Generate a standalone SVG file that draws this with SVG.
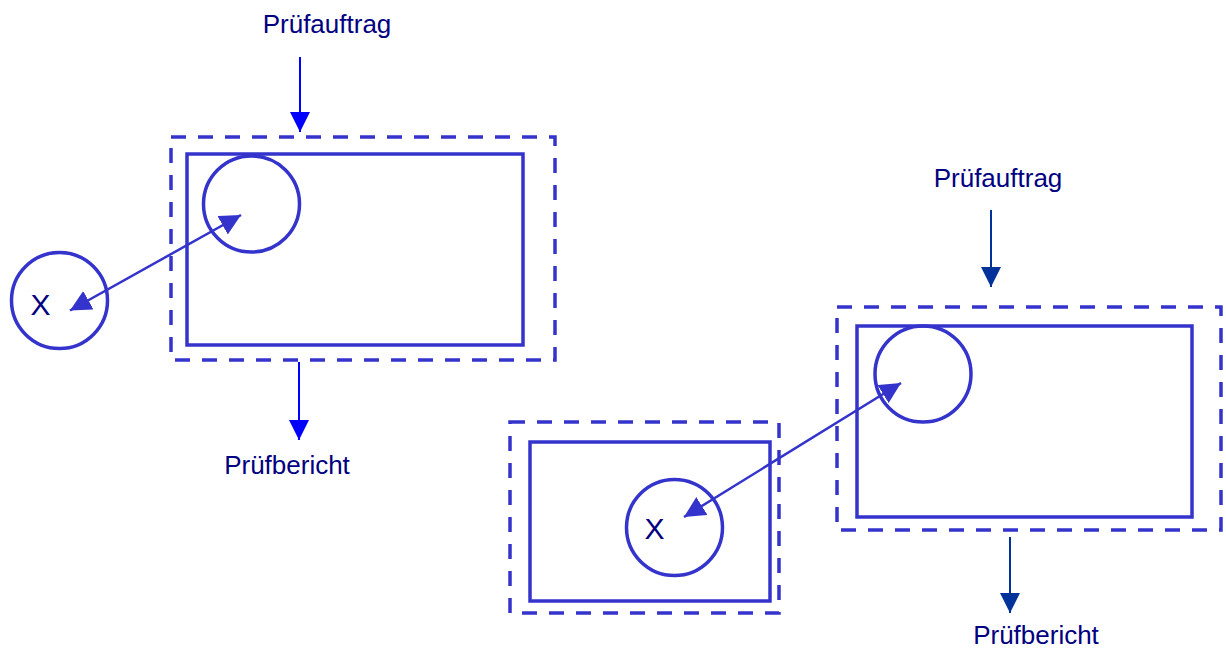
<svg xmlns="http://www.w3.org/2000/svg" width="1226" height="650" viewBox="0 0 1226 650">
  <style>
    .frame { fill: none; stroke: #3434cc; stroke-width: 3.5; stroke-dasharray: 15 12; }
    .box { fill: none; stroke: #3434cc; stroke-width: 3.5; }
    .ring { fill: none; stroke: #3434cc; stroke-width: 3.5; }
    .label { font-family: "Liberation Sans", Arial, sans-serif; font-size: 26px; fill: #000080; }
    .mark { font-family: "Liberation Sans", Arial, sans-serif; font-size: 30px; fill: #000080; }
    .flow-a { stroke: #0000ff; stroke-width: 2; fill: none; }
    .flow-b { stroke: #003399; stroke-width: 2; fill: none; }
    .link { stroke: #3434cc; stroke-width: 2.5; fill: none; }
  </style>
  <defs>
    <marker id="headA" markerUnits="userSpaceOnUse" markerWidth="20" markerHeight="20" refX="20" refY="10" orient="auto">
      <path d="M0,0 L20,10 L0,20 Z" fill="#0000ff"/>
    </marker>
    <marker id="headB" markerUnits="userSpaceOnUse" markerWidth="20" markerHeight="20" refX="20" refY="10" orient="auto">
      <path d="M0,0 L20,10 L0,20 Z" fill="#003399"/>
    </marker>
    <marker id="headL" markerUnits="userSpaceOnUse" markerWidth="22" markerHeight="22" refX="21" refY="11" orient="auto-start-reverse">
      <path d="M0,0.5 L21,11 L0,21.5 Z" fill="#3434cc"/>
    </marker>
  </defs>

  <!-- left unit under test -->
  <g id="unit-left">
    <rect class="frame" x="171" y="137" width="384" height="223"/>
    <rect class="box" x="187" y="154" width="336" height="191"/>
    <circle class="ring" cx="251.5" cy="204" r="48"/>
  </g>

  <g id="external-x">
    <circle class="ring" cx="59.5" cy="300.5" r="48"/>
    <text class="mark" x="30.5" y="315">X</text>
  </g>

  <!-- lower unit -->
  <g id="unit-lower">
    <rect class="frame" x="510" y="422" width="269" height="191"/>
    <rect class="box" x="530" y="442" width="240" height="159"/>
    <circle class="ring" cx="674.5" cy="527.5" r="48"/>
    <text class="mark" x="644.5" y="539">X</text>
  </g>

  <!-- right unit under test -->
  <g id="unit-right">
    <rect class="frame" x="837" y="307" width="384" height="223"/>
    <rect class="box" x="857" y="326" width="335" height="191"/>
    <circle class="ring" cx="923" cy="374" r="48"/>
  </g>

  <g id="labels">
    <text class="label" x="327" y="33" text-anchor="middle">Prüfauftrag</text>
    <text class="label" x="287" y="474" text-anchor="middle">Prüfbericht</text>
    <text class="label" x="998" y="187" text-anchor="middle">Prüfauftrag</text>
    <text class="label" x="1036" y="644" text-anchor="middle">Prüfbericht</text>
  </g>

  <g id="connectors">
    <line class="flow-a" x1="300" y1="57" x2="300" y2="132" marker-end="url(#headA)"/>
    <line class="flow-a" x1="299" y1="362" x2="299" y2="440" marker-end="url(#headA)"/>
    <line class="flow-b" x1="991" y1="210" x2="991" y2="287" marker-end="url(#headB)"/>
    <line class="flow-b" x1="1010" y1="537" x2="1010" y2="613" marker-end="url(#headB)"/>
    <line class="link" x1="70" y1="310.5" x2="241" y2="215" marker-start="url(#headL)" marker-end="url(#headL)"/>
    <line class="link" x1="684" y1="517" x2="901" y2="383" marker-start="url(#headL)" marker-end="url(#headL)"/>
  </g>
</svg>
